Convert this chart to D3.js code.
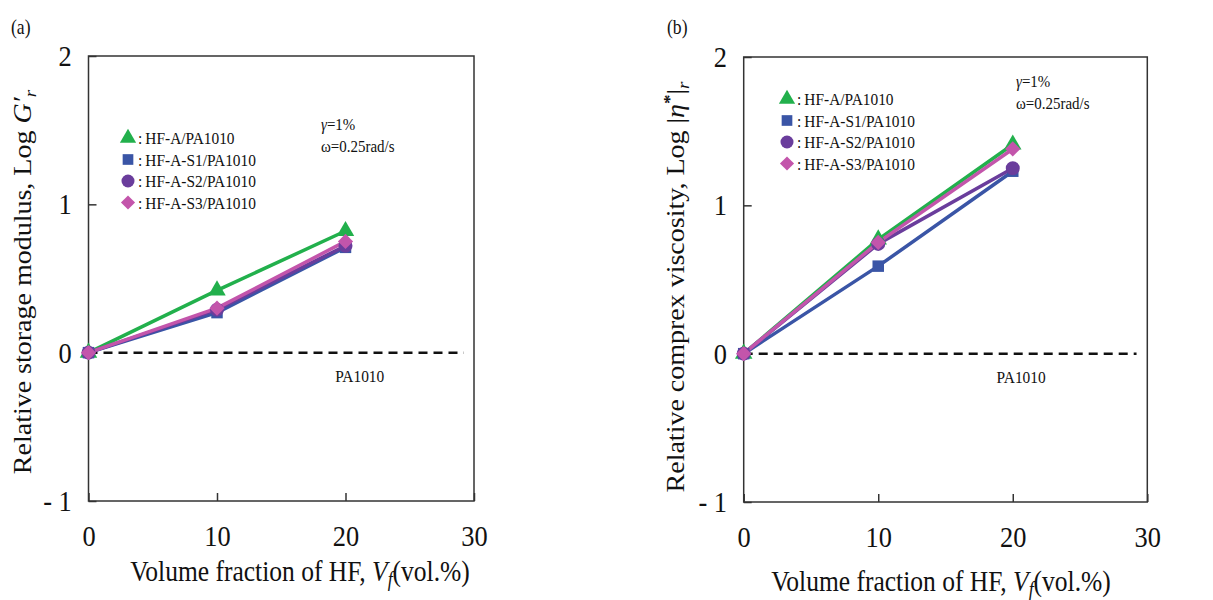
<!DOCTYPE html>
<html><head><meta charset="utf-8">
<script src="https://cdn.jsdelivr.net/npm/d3@7"></script>
<style>
html,body{margin:0;padding:0;background:#fff;}
text{font-family:"Liberation Serif","Times New Roman",serif;fill:#111;}
</style></head>
<body><svg id="c" width="1213" height="600"></svg>
<script>
// ---- data ----
const xTicks = [0, 10, 20, 30];
const yTicks = [-1, 0, 1, 2];
const vf = [0, 10, 20];
const seriesNames = ["HF-A/PA1010", "HF-A-S1/PA1010", "HF-A-S2/PA1010", "HF-A-S3/PA1010"];
// (a) relative storage modulus, Log G'r
const storageHFA   = [0, 0.42, 0.82];
const storageS1    = [0, 0.27, 0.71];
const storageS2    = [0, 0.29, 0.72];
const storageS3    = [0, 0.30, 0.75];
// (b) relative complex viscosity, Log |eta*|r
const viscHFA      = [0, 0.77, 1.41];
const viscS1       = [0, 0.59, 1.23];
const viscS2       = [0, 0.74, 1.25];
const viscS3       = [0, 0.75, 1.38];
const baselineName = "PA1010";

// ---- styles ----
const colors = ["#22b04c", "#3a55a6", "#6a3d9c", "#c355ab"];
const SQ = 0.88; // horizontal squish of the original glyphs
const svg = d3.select("#c");
svg.append("rect").attr("width",1213).attr("height",600).attr("fill","#fff");

function markerPath(i, big){
  const k = big ? 1.1 : 0.95;
  if(i===0) return d3.symbol(d3.symbolTriangle, 120*k)();
  if(i===1) return d3.symbol(d3.symbolSquare, 120*k)();
  if(i===2) return d3.symbol(d3.symbolCircle, 140*k)();
  return d3.symbol(d3.symbolSquare, 105*k)();
}
function markerRot(i){ return i===3 ? " rotate(45)" : ""; }

function sText(g, x, y, size, opts={}){
  const t = g.append("text")
    .attr("transform", `translate(${x},${y}) scale(${SQ},1)` + (opts.rot ? " rotate(-90)" : ""))
    .attr("font-size", size)
    .attr("text-anchor", opts.anchor || "start");
  if(opts.weight) t.attr("font-weight", opts.weight);
  return t;
}

function panel(cfg){
  const g = svg.append("g");
  const x = d3.scaleLinear().domain([0,30]).range([cfg.x0, cfg.x1]);
  const y = d3.scaleLinear().domain([-1,2]).range([cfg.y1, cfg.y0]);

  // axes with inward ticks
  const ax = g.append("g").attr("transform",`translate(0,${cfg.y1})`)
    .call(d3.axisBottom(x).tickValues(xTicks).tickSizeInner(-8).tickSizeOuter(0).tickPadding(24));
  const ay = g.append("g").attr("transform",`translate(${cfg.x0},0)`)
    .call(d3.axisLeft(y).tickValues(yTicks).tickSizeInner(-8).tickSizeOuter(0).tickPadding(19)
      .tickFormat(d => d < 0 ? "- " + Math.abs(d) : d));
  [ax, ay].forEach(a => {
    a.select(".domain").remove();
    a.selectAll(".tick line").attr("stroke","#333").attr("stroke-width",1.5);
    a.selectAll(".tick text").attr("font-size",30).attr("fill","#111")
      .attr("font-family",'"Liberation Serif","Times New Roman",serif')
      .attr("transform",`scale(${SQ},1)`);
  });
  // frame
  g.append("rect").attr("x",cfg.x0).attr("y",cfg.y0)
    .attr("width",cfg.x1-cfg.x0).attr("height",cfg.y1-cfg.y0)
    .attr("fill","none").attr("stroke","#333").attr("stroke-width",1.5);

  // baseline dashed
  g.append("line").attr("x1",x(0)).attr("x2",x(29.2)).attr("y1",y(0)).attr("y2",y(0))
    .attr("stroke","#111").attr("stroke-width",2.5).attr("stroke-dasharray","9,6");
  sText(g, x(cfg.paX), y(0)+29, 17.5).text(baselineName);

  // series
  const line = d3.line().x((d,i)=>x(vf[i])).y(d=>y(d));
  cfg.series.forEach((s,i)=>{
    g.append("path").datum(s).attr("d",line).attr("fill","none")
      .attr("stroke",colors[i]).attr("stroke-width",3.5).attr("stroke-linejoin","round");
  });
  cfg.series.forEach((s,i)=>{
    g.selectAll(null).data(s).enter().append("path")
      .attr("d", markerPath(i,true))
      .attr("transform",(d,j)=>`translate(${x(vf[j])},${y(d)})`+markerRot(i))
      .attr("fill",colors[i]);
  });

  // legend
  seriesNames.forEach((n,i)=>{
    const ly = cfg.legY + i*cfg.legDy;
    g.append("path").attr("d",markerPath(i,false))
      .attr("transform",`translate(${cfg.legX},${ly})`+markerRot(i)).attr("fill",colors[i]);
    sText(g, cfg.legX+10, ly+6, 17.5).text(":\u2009" + n);
  });

  // conditions
  const c1 = sText(g, cfg.condX, cfg.condY, 17);
  c1.append("tspan").attr("font-style","italic").text("γ");
  c1.append("tspan").text("=1%");
  sText(g, cfg.condX, cfg.condY+21.5, 17).text("ω=0.25rad/s");

  // panel label
  sText(g, cfg.labX, 34, 20).text(cfg.lab);

  // x title
  const xt = sText(g, cfg.xtX, cfg.xtY, 29, {anchor:"middle"});
  xt.append("tspan").text("Volume fraction of HF, ");
  xt.append("tspan").attr("font-style","italic").text("V");
  xt.append("tspan").attr("font-style","italic").attr("font-size",20).attr("dy",5).text("f");
  xt.append("tspan").attr("dy",-5).text("(vol.%)");

  // y title
  const yt = sText(g, cfg.ytX, cfg.ytY, 28, {anchor:"middle", rot:true});
  cfg.yTitle(yt);
}

panel({
  x0:88.5, x1:474, y0:56, y1:501,
  series:[storageHFA, storageS1, storageS2, storageS3],
  legX:128, legY:138, legDy:21.5,
  condX:321, condY:130,
  paX:19.2, lab:"(a)", labX:11,
  xtX:300, xtY:581,
  ytX:31, ytY:282,
  yTitle: t => {
    t.append("tspan").text("Relative storage modulus,  Log ");
    t.append("tspan").attr("font-style","italic").text("G′");
    t.append("tspan").attr("font-style","italic").attr("font-size",19).attr("dy",6).text("r");
  }
});

panel({
  x0:743.7, x1:1147.3, y0:57, y1:502,
  series:[viscHFA, viscS1, viscS2, viscS3],
  legX:787, legY:99, legDy:21.5,
  condX:1016, condY:87,
  paX:18.8, lab:"(b)", labX:667,
  xtX:941, xtY:591,
  ytX:684, ytY:287,
  yTitle: t => {
    t.append("tspan").text("Relative comprex viscosity,  Log |");
    t.append("tspan").attr("font-style","italic").text("η");
    t.append("tspan").attr("font-weight","bold").attr("font-size",19).attr("dy",-10).text("*");
    t.append("tspan").attr("dy",10).text("|");
    t.append("tspan").attr("font-style","italic").attr("font-size",19).attr("dy",6).text("r");
  }
});
</script></body></html>
